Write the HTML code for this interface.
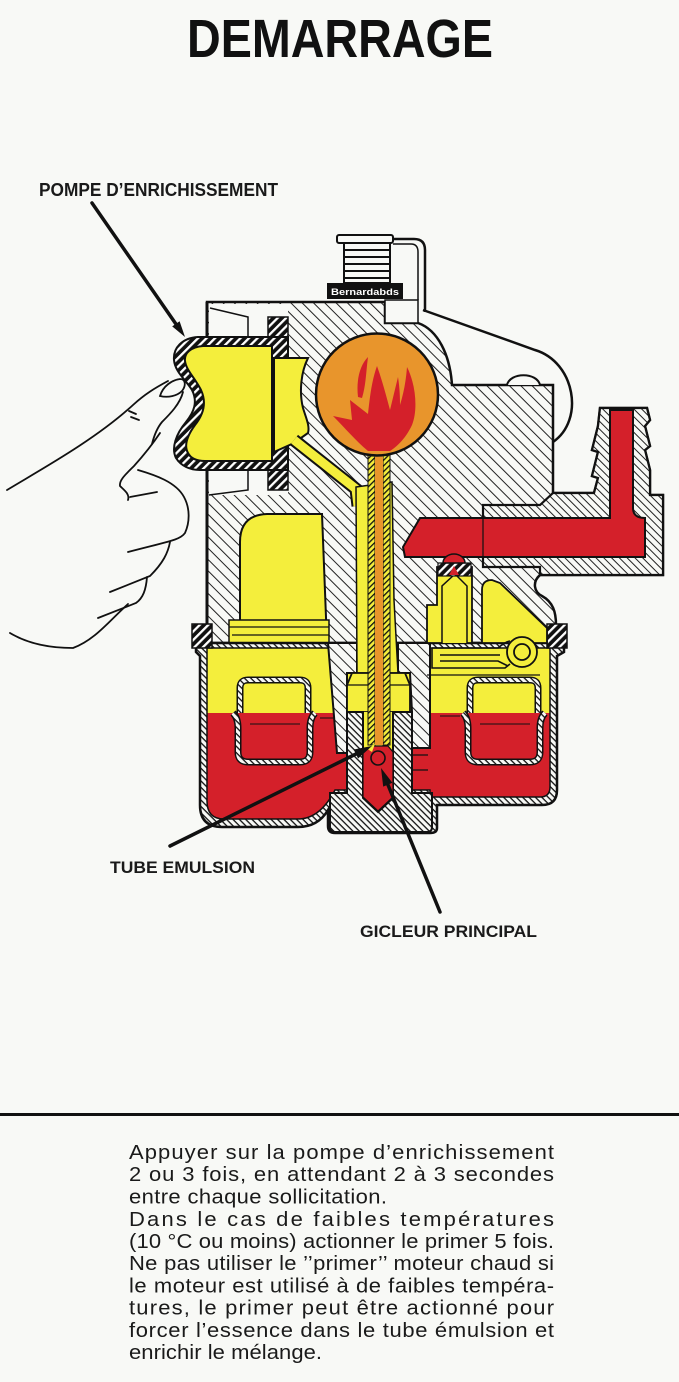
<!DOCTYPE html>
<html><head><meta charset="utf-8"><style>
html,body{margin:0;padding:0;background:#f8f9f6;}
svg{display:block;}
text{font-family:"Liberation Sans",Arial,sans-serif;}
</style></head><body>
<svg width="679" height="1382" viewBox="0 0 679 1382" xmlns="http://www.w3.org/2000/svg">
<defs>
<pattern id="hb" patternUnits="userSpaceOnUse" width="9" height="8" patternTransform="rotate(45)">
<rect width="9" height="8" fill="#f8f9f6"/><rect width="9" height="1" fill="#222"/></pattern>
<pattern id="hd" patternUnits="userSpaceOnUse" width="9" height="5.5" patternTransform="rotate(45)">
<rect width="9" height="5.5" fill="#f8f9f6"/><rect width="9" height="1" fill="#222"/></pattern>
<pattern id="fh" patternUnits="userSpaceOnUse" width="4.5" height="4.5" patternTransform="rotate(45)">
<rect width="4.5" height="4.5" fill="#f8f9f6"/><rect width="4.5" height="1.3" fill="#111"/></pattern>
<pattern id="bw" patternUnits="userSpaceOnUse" width="6" height="6" patternTransform="rotate(-45)">
<rect width="6" height="6" fill="#111"/><rect width="6" height="2.3" fill="#fff"/></pattern>
<pattern id="yh" patternUnits="userSpaceOnUse" width="4" height="4" patternTransform="rotate(-45)">
<rect width="4" height="4" fill="#f4ee3c"/><rect width="4" height="1.3" fill="#111"/></pattern>
<linearGradient id="lvl" gradientUnits="userSpaceOnUse" x1="0" y1="640" x2="0" y2="830">
<stop offset="0.384" stop-color="#f4ee3c"/><stop offset="0.384" stop-color="#d4202a"/></linearGradient>
</defs>

<rect width="679" height="1382" fill="#f8f9f6"/>

<!-- Title -->
<text x="187" y="57" font-size="54" font-weight="bold" fill="#111" textLength="306" lengthAdjust="spacingAndGlyphs">DEMARRAGE</text>

<!-- Labels -->
<text x="39" y="196" font-size="18" font-weight="bold" fill="#1a1a1a" textLength="239" lengthAdjust="spacingAndGlyphs">POMPE D’ENRICHISSEMENT</text>
<text x="110" y="873" font-size="17" font-weight="bold" fill="#1a1a1a" textLength="145" lengthAdjust="spacingAndGlyphs">TUBE EMULSION</text>
<text x="360" y="937" font-size="17" font-weight="bold" fill="#1a1a1a" textLength="177" lengthAdjust="spacingAndGlyphs">GICLEUR PRINCIPAL</text>

<!-- Neck / filler -->
<rect x="337" y="235" width="56" height="8" rx="2" fill="#f8f9f6" stroke="#111" stroke-width="2"/>
<path d="M393,239 L414,239 Q425,239 425,250 L425,312" fill="none" stroke="#111" stroke-width="2.5"/>
<path d="M393,244 L411,244 Q418,244 418,252 L418,300" fill="none" stroke="#111" stroke-width="1.5"/>
<rect x="344" y="243" width="46" height="40" fill="#f8f9f6" stroke="#111" stroke-width="2"/>
<path d="M344,250 H390 M344,257 H390 M344,264 H390 M344,271 H390 M344,278 H390" stroke="#111" stroke-width="2"/>
<rect x="327" y="283" width="76" height="16" fill="#111"/>
<text x="331" y="295" font-size="9" font-weight="bold" fill="#fff" textLength="68" lengthAdjust="spacingAndGlyphs">Bernardabds</text>

<!-- Top-right outline -->
<path d="M423,310 L535,350 C575,362 585,420 553,442" fill="none" stroke="#111" stroke-width="2.5"/>

<!-- Main hatched body -->
<path d="M207,302 L385,302 L385,323 L418,323 C438,330 450,355 452,385 L553,385 L553,493 L594,493 L598,478 L592,476 L598,452 L592,450 L598,426 L600,408 L647,408 L650,420 L645,426 L650,446 L645,450 L650,470 L650,495 L663,495 L663,575 L540,575 C532,582 534,592 542,596 C553,602 556,612 556,625 L556,643 L200,643 L207,628 Z" fill="url(#hb)" stroke="#111" stroke-width="2.5"/>
<path d="M483,505 L540,505 L553,493 L594,493 L598,478 L592,476 L598,452 L592,450 L598,426 L600,408 L647,408 L650,420 L645,426 L650,446 L645,450 L650,470 L650,495 L663,495 L663,575 L540,575 L540,567 L483,567 Z" fill="url(#hd)" stroke="#111" stroke-width="2.2"/>
<path d="M507,385 C510,372 537,372 540,385" fill="#f8f9f6" stroke="#111" stroke-width="2"/>

<!-- white pump mounts -->
<rect x="209" y="304" width="79" height="33" fill="#f8f9f6"/>
<path d="M210,308 L248,317 L248,337" fill="none" stroke="#111" stroke-width="1.5"/>
<rect x="209" y="470" width="79" height="25" fill="#f8f9f6"/>
<path d="M209,495 L248,490 L248,470" fill="none" stroke="#111" stroke-width="1.5"/>
<path d="M207,302 L207,628" stroke="#111" stroke-width="3"/>
<rect x="268" y="317" width="20" height="28" fill="url(#bw)" stroke="#111" stroke-width="1.5"/>
<rect x="268" y="462" width="20" height="28" fill="url(#bw)" stroke="#111" stroke-width="1.5"/>
<rect x="385" y="300" width="33" height="23" fill="#f8f9f6" stroke="#111" stroke-width="1.5"/>

<!-- Pump bulb -->
<path d="M288,337 L198,337 C182,338 173,348 174,360 C175,372 186,380 192,390 C198,402 194,412 186,422 C176,434 171,448 176,458 C181,466 190,470 200,470 L288,470 Z" fill="url(#bw)" stroke="#111" stroke-width="2"/>
<path d="M272,346 L203,346 C191,347 184,353 185,361 C186,370 195,378 201,390 C207,403 203,415 195,425 C187,436 184,446 188,453 C191,459 197,461 205,461 L272,461 Z" fill="#f4ee3c" stroke="#111" stroke-width="2"/>
<path d="M274,358 L308,358 C301,372 299,392 303,408 C306,418 310,426 308,433 L294,443 L274,452 Z" fill="#f4ee3c" stroke="#111" stroke-width="2"/>

<!-- Yellow channel -->
<path d="M294,440 L356,489 L358,506" fill="none" stroke="#111" stroke-width="13"/>
<path d="M294,440 L356,489 L358,506" fill="none" stroke="#f4ee3c" stroke-width="9"/>

<!-- Left yellow piece -->
<path d="M240,643 L240,542 Q240,515 267,514 L322,514 L327,643 Z" fill="#f4ee3c" stroke="#111" stroke-width="2"/>
<rect x="229" y="620" width="100" height="23" fill="#f4ee3c" stroke="#111" stroke-width="1.5"/>
<path d="M229,627 H329 M232,635 H329" stroke="#111" stroke-width="1.2"/>

<!-- Bowl -->
<path d="M196,643 L564,643 L564,652 L557,656 L557,790 Q557,805 542,805 L437,805 L437,828 Q437,833 430,833 L335,833 Q328,833 328,826 L328,810 Q318,827 298,827 L222,827 Q200,827 200,805 L200,656 L196,652 Z" fill="url(#fh)" stroke="#111" stroke-width="2.5"/>
<path d="M207,648 L550,648 L550,787 Q550,797 540,797 L430,797 L430,790 L335,790 Q320,819 298,819 L224,819 Q207,819 207,801 Z" fill="url(#lvl)" stroke="#111" stroke-width="1.5"/>
<rect x="192" y="624" width="20" height="24" fill="url(#bw)" stroke="#111" stroke-width="1.5"/>
<rect x="547" y="624" width="20" height="24" fill="url(#bw)" stroke="#111" stroke-width="1.5"/>

<!-- Floats -->
<g fill="none">
<path d="M240,713 L240,688 Q240,680 248,680 L300,680 Q308,680 308,688 L308,713" stroke="#111" stroke-width="7"/>
<path d="M240,713 L240,688 Q240,680 248,680 L300,680 Q308,680 308,688 L308,713" stroke="url(#fh)" stroke-width="4"/>
<path d="M233,713 Q238,718 238,728 L238,752 Q238,762 248,762 L300,762 Q310,762 310,752 L310,728 Q310,718 315,713" stroke="#111" stroke-width="7"/>
<path d="M233,713 Q238,718 238,728 L238,752 Q238,762 248,762 L300,762 Q310,762 310,752 L310,728 Q310,718 315,713" stroke="url(#fh)" stroke-width="4"/>
<path d="M470,713 L470,688 Q470,680 478,680 L530,680 Q538,680 538,688 L538,713" stroke="#111" stroke-width="7"/>
<path d="M470,713 L470,688 Q470,680 478,680 L530,680 Q538,680 538,688 L538,713" stroke="url(#fh)" stroke-width="4"/>
<path d="M463,713 Q468,718 468,728 L468,752 Q468,762 478,762 L530,762 Q540,762 540,752 L540,728 Q540,718 545,713" stroke="#111" stroke-width="7"/>
<path d="M463,713 Q468,718 468,728 L468,752 Q468,762 478,762 L530,762 Q540,762 540,752 L540,728 Q540,718 545,713" stroke="url(#fh)" stroke-width="4"/>
</g>
<path d="M250,724 H300 M480,724 H530 M320,718 H335 M440,716 H460" stroke="#111" stroke-width="1"/>

<!-- Central columns -->
<path d="M328,643 L357,643 L357,673 L347,673 L347,753 L337,753 Z" fill="url(#hb)" stroke="#111" stroke-width="2"/>
<path d="M398,643 L430,643 L430,748 L412,748 L412,712 L410,673 L398,673 Z" fill="url(#hb)" stroke="#111" stroke-width="2"/>
<path d="M410,755 H428 M410,770 H428 M412,755 V790" stroke="#111" stroke-width="1.3" fill="none"/>

<!-- Sleeve, nut -->
<path d="M356,487 L392,482 L394,600 L398,673 L357,673 Z" fill="#f4ee3c" stroke="#111" stroke-width="1.5"/>
<path d="M352,673 L405,673 L410,685 L410,712 L347,712 L347,685 Z" fill="#f4ee3c" stroke="#111" stroke-width="1.8"/>
<path d="M347,685 H410" stroke="#111" stroke-width="1.2"/>
<rect x="363" y="712" width="30" height="40" fill="#f4ee3c"/>

<!-- Jet holder -->
<path d="M347,712 L363,712 L363,798 L378,812 L393,798 L393,712 L412,712 L412,793 L432,793 L432,827 Q432,832 427,832 L335,832 Q330,832 330,827 L330,793 L347,793 Z" fill="url(#fh)" stroke="#111" stroke-width="2"/>

<!-- Emulsion tube -->
<rect x="368" y="453" width="7" height="292" fill="url(#yh)" stroke="#111" stroke-width="1"/>
<rect x="383" y="453" width="7" height="292" fill="url(#yh)" stroke="#111" stroke-width="1"/>
<rect x="375" y="453" width="8" height="292" fill="#e8952c"/>

<!-- Jet -->
<path d="M363,752 L372,746 L388,746 L393,752 L393,797 L378,811 L363,797 Z" fill="#d4202a" stroke="#111" stroke-width="1.2"/>
<path d="M366,748 L375,744 L372,752 Z" fill="#f4ee3c"/>
<circle cx="378" cy="758" r="7" fill="#d4202a" stroke="#111" stroke-width="1.6"/>

<!-- Ball with flame -->
<circle cx="377" cy="394.5" r="61" fill="#e8952c" stroke="#111" stroke-width="2.5"/>
<path d="M368,451 C355,440 345,428 333,416 L352,420 L350,400 L368,414 C370,395 372,380 377,366 C382,380 386,395 390,410 L398,377 C400,390 400,400 400,405 C404,392 406,380 407,367 C416,385 418,410 412,425 C405,440 395,448 390,451 Z" fill="#d4202a"/>
<path d="M358,397 C356,380 360,365 368,357 C366,372 366,385 362,398 Z" fill="#d4202a"/>

<!-- Red fuel channel -->
<path d="M610,410 L633,410 L633,508 Q633,518 645,518 L645,557 L405,557 L403,547 L420,518 L610,518 Z" fill="#d4202a" stroke="#111" stroke-width="2"/>
<path d="M483,505 V567" stroke="#111" stroke-width="1.2"/>

<!-- Needle valve area -->
<path d="M427,643 L427,605 L437,605 L437,567 L472,567 L472,643 Z" fill="#f4ee3c" stroke="#111" stroke-width="1.8"/>
<path d="M482,643 L482,590 Q482,580 492,580 L500,583 L547,628 L547,643 Z" fill="#f4ee3c" stroke="#111" stroke-width="1.8"/>
<path d="M442,643 L442,586 L455,574 L467,586 L467,643" fill="#f4ee3c" stroke="#111" stroke-width="1.5"/>
<rect x="438" y="563" width="33" height="13" fill="url(#bw)" stroke="#111" stroke-width="1.2"/>
<path d="M443,563 A11,9 0 0 1 465,563 Z" fill="#d4202a" stroke="#111" stroke-width="1.5"/>
<path d="M454,566 L449,575 L459,575 Z" fill="#d4202a"/>

<!-- Lever -->
<circle cx="522" cy="652" r="15" fill="#f4ee3c" stroke="#111" stroke-width="1.8"/>
<circle cx="522" cy="652" r="8" fill="#f4ee3c" stroke="#111" stroke-width="1.8"/>
<path d="M432,648 L498,648 Q505,642 510,641 M432,648 L432,668 L505,668 L510,664 M440,655 L500,655 M440,661 L498,661 L508,666" fill="none" stroke="#111" stroke-width="1.6"/>
<path d="M427,675 H540" stroke="#111" stroke-width="1.2"/>

<!-- Hand -->
<g fill="none" stroke="#111" stroke-width="1.8" stroke-linecap="round">
<path d="M7,490 C40,470 95,440 133,405 C145,394 155,388 168,381"/>
<path d="M160,396 C163,386 172,380 180,379 C186,379 186,386 182,391 C177,396 168,398 160,396 Z"/>
<path d="M183,392 C180,404 170,414 162,422 C157,428 154,436 152,444"/>
<path d="M129,411 L136,414 M131,417 L139,420"/>
<path d="M160,433 C152,445 143,456 134,466 C126,474 119,480 120,486 C124,490 130,494 128,500"/>
<path d="M130,497 L157,492"/>
<path d="M138,470 C155,475 176,482 184,497 C190,508 190,522 185,533 C180,540 170,541 128,552"/>
<path d="M170,542 C168,553 163,563 150,576 L110,592"/>
<path d="M147,577 C146,590 143,598 136,603 L98,618"/>
<path d="M10,633 C25,642 45,648 73,648 C95,640 110,620 128,604"/>
</g>

<!-- Leaders -->
<g stroke="#111" stroke-width="3.5" stroke-linecap="round">
<line x1="92" y1="203" x2="178" y2="327"/>
<line x1="170" y1="846" x2="360" y2="752"/>
<line x1="440" y1="912" x2="386" y2="780"/>
</g>
<polygon points="185,337 172.2,326.4 179.6,321.2" fill="#111"/>
<polygon points="372,746 358.1,758.5 353.7,749.5" fill="#111"/>
<polygon points="381,768 392.4,782.8 383.2,786.6" fill="#111"/>

<!-- Rule -->
<rect x="0" y="1113" width="679" height="3" fill="#111"/>

<!-- Paragraph -->
<g font-size="20" fill="#1a1a1a" transform="translate(129,0) scale(1.1,1)">
<text x="0" y="1159" textLength="386.4" lengthAdjust="spacing">Appuyer sur la pompe d’enrichissement</text>
<text x="0" y="1181" textLength="386.4" lengthAdjust="spacing">2 ou 3 fois, en attendant 2 à 3 secondes</text>
<text x="0" y="1203.5" textLength="234.5" lengthAdjust="spacing">entre chaque sollicitation.</text>
<text x="0" y="1226" textLength="386.4" lengthAdjust="spacing">Dans le cas de faibles températures</text>
<text x="0" y="1248" textLength="386.4" lengthAdjust="spacing">(10 °C ou moins) actionner le primer  5 fois.</text>
<text x="0" y="1270" textLength="386.4" lengthAdjust="spacing">Ne pas utiliser le ’’primer’’ moteur chaud si</text>
<text x="0" y="1292.5" textLength="386.4" lengthAdjust="spacing">le moteur est utilisé à de faibles tempéra-</text>
<text x="0" y="1314.5" textLength="386.4" lengthAdjust="spacing">tures, le primer peut être actionné pour</text>
<text x="0" y="1337" textLength="386.4" lengthAdjust="spacing">forcer l’essence dans le tube émulsion et</text>
<text x="0" y="1359" textLength="175.5" lengthAdjust="spacing">enrichir le mélange.</text>
</g>
</svg>
</body></html>
